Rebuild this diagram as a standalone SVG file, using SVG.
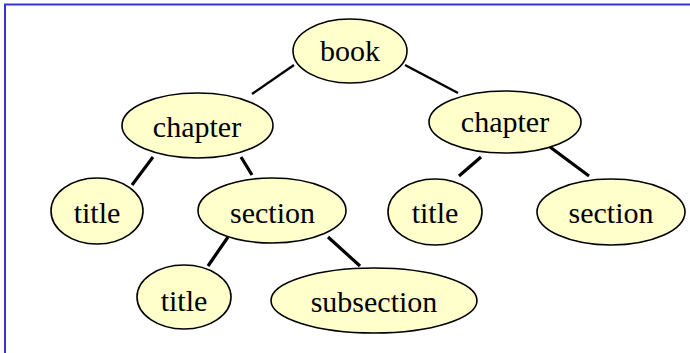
<svg xmlns="http://www.w3.org/2000/svg" width="690" height="353" viewBox="0 0 690 353">
<style>
.n ellipse{fill:#ffffcc;stroke:#000;stroke-width:1.6}
.n text{font-family:"Liberation Serif","Times New Roman",serif;font-size:30px;fill:#000;text-anchor:middle}
.e line{stroke:#000;stroke-linecap:butt}
.frame{stroke:#3333dd;stroke-width:2;fill:none}
</style>
<rect width="690" height="353" fill="#fff"/>
<polyline class="frame" points="5,353 5,4.5 690,4.5"/>
<g id="connectors" class="e">
<line x1="294" y1="65" x2="252" y2="94" stroke-width="2.4"/>
<line x1="405" y1="65" x2="458" y2="93" stroke-width="2.4"/>
<line x1="153" y1="157" x2="132" y2="185" stroke-width="3.2"/>
<line x1="241" y1="157" x2="252" y2="175" stroke-width="3.2"/>
<line x1="481" y1="157" x2="459" y2="176" stroke-width="3.2"/>
<line x1="550" y1="147" x2="589" y2="176" stroke-width="3.2"/>
<line x1="228" y1="237" x2="208" y2="266" stroke-width="3.2"/>
<line x1="328" y1="237" x2="360" y2="266" stroke-width="3.2"/>
</g>
<g id="book" class="n"><ellipse cx="350" cy="51" rx="57" ry="32"/><text x="350" y="61">book</text></g>
<g id="chapter1" class="n"><ellipse cx="197.5" cy="125.5" rx="75.5" ry="32.5"/><text x="197" y="136.5">chapter</text></g>
<g id="chapter2" class="n"><ellipse cx="505" cy="122" rx="76" ry="31"/><text x="505" y="132">chapter</text></g>
<g id="title1" class="n"><ellipse cx="97" cy="211" rx="46" ry="33"/><text x="97" y="222.5">title</text></g>
<g id="section1" class="n"><ellipse cx="272" cy="210.5" rx="74" ry="32.5"/><text x="272.5" y="222.5">section</text></g>
<g id="title2" class="n"><ellipse cx="435" cy="212" rx="47" ry="33"/><text x="435" y="222.5">title</text></g>
<g id="section2" class="n"><ellipse cx="611" cy="212" rx="74" ry="33"/><text x="611" y="222.5">section</text></g>
<g id="title3" class="n"><ellipse cx="184" cy="297" rx="47" ry="32"/><text x="184" y="311">title</text></g>
<g id="subsection" class="n"><ellipse cx="374" cy="300.5" rx="103" ry="32.5"/><text x="374" y="312">subsection</text></g>
</svg>
